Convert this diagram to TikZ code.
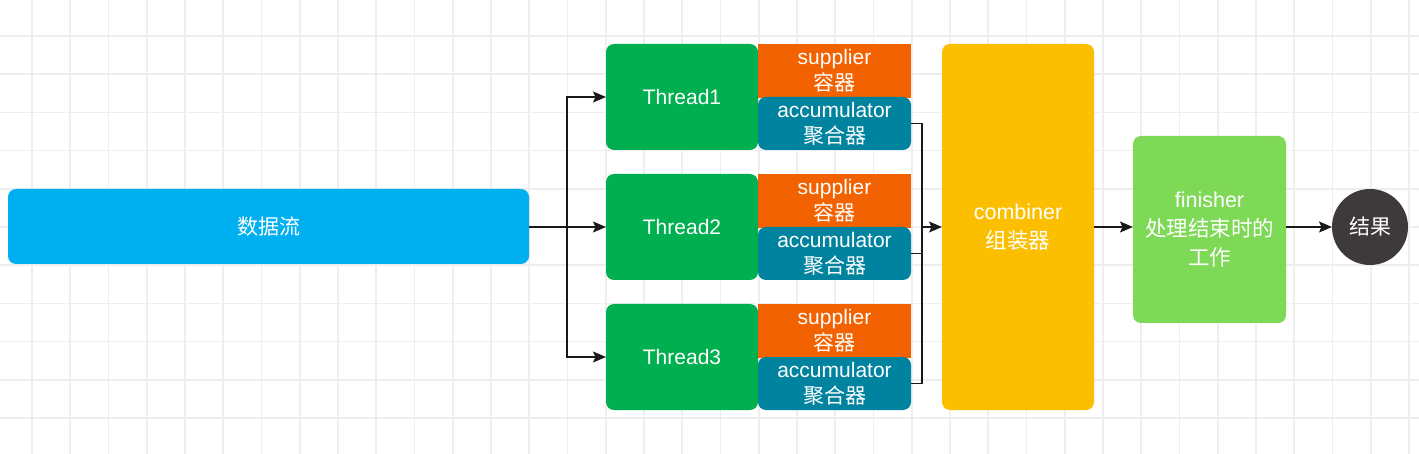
\documentclass[tikz,border=0pt]{standalone}
\usepackage{fontspec}
\setmainfont{Liberation Sans}
\newfontfamily\cjk{Noto Sans CJK SC}
\usetikzlibrary{arrows.meta}
\definecolor{bluebox}{RGB}{0,175,240}
\definecolor{threadc}{RGB}{0,176,80}
\definecolor{supc}{RGB}{242,98,0}
\definecolor{accc}{RGB}{0,131,158}
\definecolor{combc}{RGB}{251,191,0}
\definecolor{finc}{RGB}{126,217,87}
\definecolor{resc}{RGB}{62,58,60}
\definecolor{gridc}{RGB}{238,238,238}
\definecolor{linec}{RGB}{25,25,25}
\begin{document}
\begin{tikzpicture}[x=1pt,y=-1pt,
  box/.style={draw=none, inner sep=0pt, outer sep=0pt, text=white, align=center, anchor=north west, font=\fontsize{21}{27}\selectfont},
  small/.style={font=\fontsize{21}{26}\selectfont},
  conn/.style={line width=1.5pt, draw=linec},
  arr/.style={conn, -{Stealth[length=13pt,width=11pt,inset=2.5pt]}}]
\fill[white] (0,0) rectangle (1419,454);
\useasboundingbox (0,0) rectangle (1419,454);
\foreach \k in {0,...,36} \draw[gridc, line width=1.7pt] ({32+38.25*\k},0) -- ({32+38.25*\k},454);
\foreach \k in {0,...,10} \draw[gridc, line width=1.7pt] (0,{36+38.2*\k}) -- (1419,{36+38.2*\k});

\node[box, fill=bluebox, rounded corners=8pt, minimum width=521pt, minimum height=75pt] (data) at (8,189) {\cjk 数据流};

\foreach \i/\y in {1/44,2/174,3/304}{
  \node[box, fill=threadc, rounded corners=8pt, minimum width=152pt, minimum height=106pt] (t\i) at (606,\y) {Thread\i};
  \node[box, small, fill=supc, minimum width=153pt, minimum height=54pt] (s\i) at (758,\y) {supplier\\{\cjk 容器}};
  \node[box, small, fill=accc, rounded corners=8pt, minimum width=153pt, minimum height=53pt] (a\i) at (758,\y+53) {accumulator\\{\cjk 聚合器}};
}

\node[box, fill=combc, rounded corners=8pt, minimum width=152pt, minimum height=366pt, font=\fontsize{21.5}{29}\selectfont] (comb) at (942,44) {combiner\\{\cjk 组装器}};
\node[box, fill=finc, rounded corners=8pt, minimum width=153pt, minimum height=187pt, font=\fontsize{21.5}{29}\selectfont] (fin) at (1133,136) {finisher\\{\cjk 处理结束时的}\\{\cjk 工作}};
\node[circle, fill=resc, minimum size=76pt, inner sep=0pt, outer sep=0pt, text=white, font=\fontsize{21}{26}\selectfont] (res) at (1370,227) {\cjk 结果};

\coordinate (j) at (567,227);
\draw[conn] (data.east |- j) -- (j);
\draw[arr] (j) |- (t1.west);
\draw[arr] (j) -- (t2.west |- j);
\draw[arr] (j) |- (t3.west);

\coordinate (k) at (922,227);
\draw[conn] (a1.east) -| (k) |- (a3.east);
\draw[conn] (a2.east) -| (k);
\draw[arr] (k) -- (comb.west);
\draw[arr] (comb.east) -- (fin.west |- comb.east);
\draw[arr] (fin.east |- res.west) -- (res.west);
\end{tikzpicture}
\end{document}
